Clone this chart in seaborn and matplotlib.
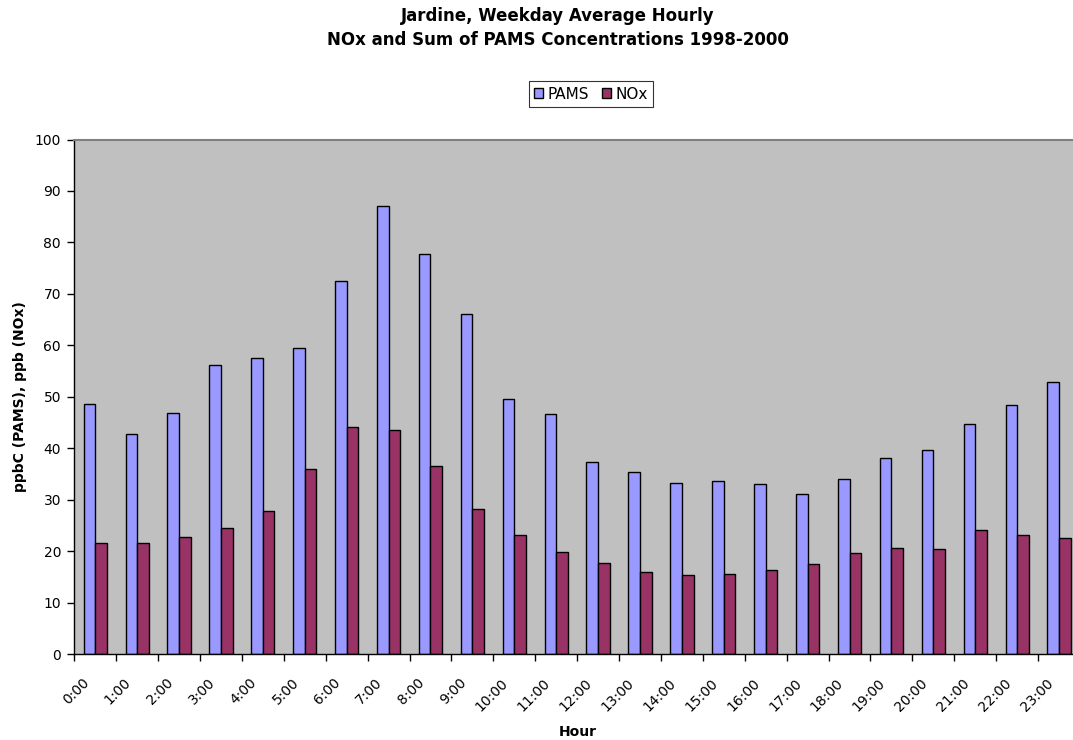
import numpy as np
import pandas as pd
import matplotlib
matplotlib.use("Agg")
import matplotlib.pyplot as plt
import seaborn as sns
from matplotlib.ticker import FixedLocator
from matplotlib.transforms import ScaledTranslation

hours = [f"{h}:00" for h in range(24)]
pams = [48.7, 42.8, 46.9, 56.1, 57.6, 59.5, 72.5, 87.0, 77.8, 66.1, 49.6, 46.7,
        37.4, 35.4, 33.2, 33.7, 33.1, 31.2, 34.0, 38.2, 39.6, 44.7, 48.4, 52.9]
nox = [21.6, 21.6, 22.8, 24.5, 27.8, 35.9, 44.2, 43.6, 36.5, 28.2, 23.2, 19.9,
       17.8, 15.9, 15.4, 15.6, 16.3, 17.6, 19.6, 20.7, 20.4, 24.1, 23.1, 22.5]
series = ["PAMS", "NOx"]
colors = ["#9999FF", "#993366"]
yticks = list(range(0, 101, 10))

df = pd.DataFrame({
    "Hour": hours * 2,
    "value": pams + nox,
    "series": [series[0]] * len(hours) + [series[1]] * len(hours),
})

sns.set_theme(style="white")
plt.rcParams["font.family"] = ["DejaVu Sans"]
for k in ["text.color", "axes.labelcolor", "xtick.color", "ytick.color"]:
    plt.rcParams[k] = "black"

W, H = 1073, 740
fig = plt.figure(figsize=(W / 100, H / 100), dpi=100)
left, right, top, bottom = 74.3, 1080.0, 139.5, 654.3
ax = fig.add_axes([left / W, 1 - bottom / H, (right - left) / W, (bottom - top) / H])
ax.set_facecolor("#C0C0C0")

sns.barplot(data=df, x="Hour", y="value", hue="series", order=hours,
            hue_order=series, palette=colors, width=0.555, saturation=1,
            edgecolor="black", linewidth=1.0, ax=ax, legend=True)

ax.set_xlim(-0.5, len(hours) - 0.5)
ax.set_ylim(0, 100)
ax.set_yticks(yticks)
ax.set_yticklabels([str(v) for v in yticks], fontsize=10)
ax.tick_params(axis="y", direction="out", length=5, width=1, color="black", pad=4.5, left=True)

ax.set_xticks(range(len(hours)))
ax.set_xticklabels(hours, rotation=45, ha="right", va="center", rotation_mode="anchor", fontsize=10)
ax.tick_params(axis="x", which="major", length=0, pad=19)
off = ScaledTranslation(-8.3 / 100, 0, fig.dpi_scale_trans)
for lab in ax.get_xticklabels():
    lab.set_transform(lab.get_transform() + off)
ax.xaxis.set_minor_locator(FixedLocator(np.arange(-0.5, len(hours), 1.0)))
ax.tick_params(axis="x", which="minor", direction="out", length=5, width=1, color="black", bottom=True)

for s in ["left", "bottom"]:
    ax.spines[s].set_color("black")
    ax.spines[s].set_linewidth(1.0)
ax.spines["top"].set_color("#808080")
ax.spines["top"].set_linewidth(1.5)
ax.spines["right"].set_visible(False)

ax.set_xlabel("Hour", fontsize=10, fontweight="bold")
ax.xaxis.label.set_va("baseline")
ax.set_ylabel("ppbC (PAMS), ppb (NOx)", fontsize=10, fontweight="bold")
ax.yaxis.label.set_va("center")
ax.xaxis.set_label_coords((578 - left) / (right - left), -(736 - bottom) / (bottom - top))
ax.yaxis.set_label_coords(-(left - 20) / (right - left), 0.5)

handles, labels = ax.get_legend_handles_labels()
ax.get_legend().remove()
leg = fig.legend(handles, labels, loc="center", bbox_to_anchor=(591 / W, 1 - 94.2 / H),
                 ncol=2, fontsize=11, frameon=True, fancybox=False, edgecolor="black",
                 handlelength=0.6, handleheight=0.6, handletextpad=0.3, columnspacing=0.8,
                 borderpad=0.35, borderaxespad=0)
leg.get_frame().set_linewidth(0.8)

fig.text(558 / W, 1 - 21 / H, "Jardine, Weekday Average Hourly", ha="center",
         va="baseline", fontsize=12, fontweight="bold")
fig.text(558 / W, 1 - 45 / H, "NOx and Sum of PAMS Concentrations 1998-2000", ha="center",
         va="baseline", fontsize=12, fontweight="bold")

fig.savefig("out.png", dpi=100)
